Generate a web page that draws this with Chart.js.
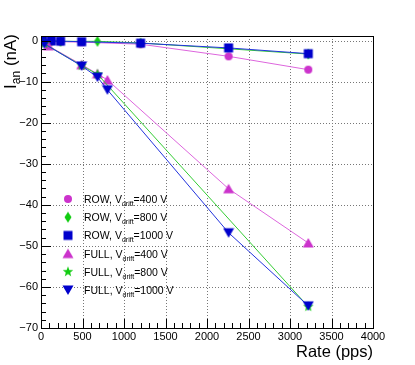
<!DOCTYPE html>
<html>
<head>
<meta charset="utf-8">
<script src="https://cdn.jsdelivr.net/npm/chart.js@4"></script>
<style>
    html, body { margin: 0; padding: 0; background: #fff; }
    #wrap { width: 415px; height: 365px; }
</style>
</head>
<body>
<div id="wrap"><canvas id="chart" width="415" height="365"></canvas></div>
<script>
// Data
const rateRow400 = [20, 125, 235, 490, 1200, 2260, 3220];
const row400 = [-0.3, -0.2, -0.3, -0.4, -0.9, -3.85, -7.1];

const rateRow800 = [20, 125, 235, 680, 1200, 3220];
const row800 = [-0.1, -0.1, -0.2, -0.2, -0.6, -3.3];

const rateRow1000 = [20, 125, 235, 490, 1200, 2260, 3220];
const row1000 = [-0.1, -0.1, -0.15, -0.3, -0.65, -1.8, -3.2];

const rateFull400 = [90, 490, 680, 800, 2260, 3220];
const full400 = [-1.3, -5.9, -8.1, -9.6, -36.1, -49.3];

const rateFull800 = [40, 490, 680, 3220];
const full800 = [-0.8, -6.1, -8.2, -64.8];

const rateFull1000 = [40, 490, 680, 800, 2260, 3220];
const full1000 = [-0.8, -6.2, -8.9, -12.0, -46.8, -64.6];

const xTicks = [0, 500, 1000, 1500, 2000, 2500, 3000, 3500, 4000];
const yTicks = [-70, -60, -50, -40, -30, -20, -10, 0];

const MAGENTA = "#cc33cc";
const GREEN = "#11cc11";
const BLUE = "#0000cc";
const FONT = "'Liberation Sans', Arial, sans-serif";

// Marker images (ROOT style)
function makeMarker(shape, color) {
    const c = document.createElement("canvas");
    const s = 12;
    c.width = s;
    c.height = s;
    const g = c.getContext("2d");
    const m = s / 2;
    g.fillStyle = color;
    g.beginPath();
    if (shape === "circle") {
        g.arc(m, m, 4, 0, Math.PI * 2);
    } else if (shape === "square") {
        g.rect(m - 4.5, m - 4.5, 9, 9);
    } else if (shape === "diamond") {
        g.moveTo(m, m - 5.5);
        g.lineTo(m + 3.5, m);
        g.lineTo(m, m + 5.5);
        g.lineTo(m - 3.5, m);
    } else if (shape === "up") {
        g.moveTo(m, m - 5);
        g.lineTo(m + 5.5, m + 4.5);
        g.lineTo(m - 5.5, m + 4.5);
    } else if (shape === "down") {
        g.moveTo(m, m + 5);
        g.lineTo(m + 5.5, m - 4.5);
        g.lineTo(m - 5.5, m - 4.5);
    } else if (shape === "star") {
        for (let i = 0; i < 10; i++) {
            const r = i % 2 === 0 ? 5.5 : 2.3;
            const a = -Math.PI / 2 + i * Math.PI / 5;
            const px = m + r * Math.cos(a);
            const py = m + r * Math.sin(a);
            if (i === 0) g.moveTo(px, py); else g.lineTo(px, py);
        }
    }
    g.closePath();
    g.fill();
    return c;
}

function toPoints(xs, ys) {
    return xs.map((x, i) => ({ x: x, y: ys[i] }));
}

const series = [
    { name: "ROW, V", val: "=400 V", xs: rateRow400, ys: row400, color: MAGENTA, line: "#dd66dd", shape: "circle" },
    { name: "ROW, V", val: "=800 V", xs: rateRow800, ys: row800, color: GREEN, line: "#33cc33", shape: "diamond" },
    { name: "ROW, V", val: "=1000 V", xs: rateRow1000, ys: row1000, color: BLUE, line: "#2233dd", shape: "square" },
    { name: "FULL, V", val: "=400 V", xs: rateFull400, ys: full400, color: MAGENTA, line: "#dd66dd", shape: "up" },
    { name: "FULL, V", val: "=800 V", xs: rateFull800, ys: full800, color: GREEN, line: "#33cc33", shape: "star" },
    { name: "FULL, V", val: "=1000 V", xs: rateFull1000, ys: full1000, color: BLUE, line: "#2233dd", shape: "down" }
];

series.forEach(s => s.img = makeMarker(s.shape, s.color));

const datasets = series.map((s, i) => ({
    label: s.name + "drift" + s.val,
    data: toPoints(s.xs, s.ys),
    showLine: true,
    borderColor: s.line,
    borderWidth: 1,
    pointStyle: s.img,
    pointRadius: 5,
    pointHoverRadius: 5,
    order: series.length - i
}));

function minus(v) {
    return String(v).replace("-", "\u2212");
}

// Frame, dotted grid, inward ticks, legend and titles
const rootStyle = {
    id: "rootStyle",
    beforeDatasetsDraw(chart) {
        const { ctx, chartArea: a, scales } = chart;
        ctx.save();
        ctx.strokeStyle = "#777";
        ctx.lineWidth = 1;
        ctx.setLineDash([1, 2]);
        xTicks.forEach(v => {
            const px = Math.round(scales.x.getPixelForValue(v)) + 0.5;
            ctx.beginPath();
            ctx.moveTo(px, a.top);
            ctx.lineTo(px, a.bottom);
            ctx.stroke();
        });
        yTicks.forEach(v => {
            const py = Math.round(scales.y.getPixelForValue(v)) + 0.5;
            ctx.beginPath();
            ctx.moveTo(a.left, py);
            ctx.lineTo(a.right, py);
            ctx.stroke();
        });
        ctx.restore();
    },
    afterDatasetsDraw(chart) {
        const { ctx, chartArea: a, scales } = chart;
        ctx.save();
        ctx.strokeStyle = "#000";
        ctx.lineWidth = 1;
        ctx.setLineDash([]);
        ctx.strokeRect(Math.round(a.left) + 0.5, Math.round(a.top) + 0.5,
            Math.round(a.right - a.left), Math.round(a.bottom - a.top));

        // x ticks (every 100, major every 500)
        for (let v = 0; v <= 4000; v += 100) {
            const px = Math.round(scales.x.getPixelForValue(v)) + 0.5;
            const len = v % 500 === 0 ? 9 : 5;
            ctx.beginPath();
            ctx.moveTo(px, a.bottom);
            ctx.lineTo(px, a.bottom - len);
            ctx.stroke();
        }
        // y ticks (every 2, major every 10)
        for (let v = -70; v <= 0; v += 2) {
            const py = Math.round(scales.y.getPixelForValue(v)) + 0.5;
            const len = v % 10 === 0 ? 10 : 5;
            ctx.beginPath();
            ctx.moveTo(a.left, py);
            ctx.lineTo(a.left + len, py);
            ctx.stroke();
        }

        // Legend
        ctx.fillStyle = "#000";
        ctx.textBaseline = "alphabetic";
        ctx.textAlign = "left";
        series.forEach((s, i) => {
            const cy = 199 + i * 18.2;
            ctx.drawImage(s.img, 68 - s.img.width / 2, cy - s.img.height / 2);
            let tx = 84;
            const by = cy + 4;
            ctx.font = "10.5px " + FONT;
            ctx.fillText(s.name, tx, by);
            tx += ctx.measureText(s.name).width;
            ctx.font = "7px " + FONT;
            ctx.fillText("drift", tx, by + 3);
            tx += ctx.measureText("drift").width;
            ctx.font = "10.5px " + FONT;
            ctx.fillText(s.val, tx, by);
        });

        // x title
        ctx.font = "16.5px " + FONT;
        ctx.textAlign = "right";
        ctx.fillText("Rate (pps)", a.right, 357);

        // y title, rotated, ending at top of frame
        ctx.translate(15.5, 34);
        ctx.rotate(-Math.PI / 2);
        ctx.textAlign = "left";
        ctx.font = "17px " + FONT;
        const w1 = ctx.measureText("I").width;
        const w3 = ctx.measureText(" (nA)").width;
        ctx.font = "12px " + FONT;
        const w2 = ctx.measureText("an").width;
        let x0 = -(w1 + w2 + w3);
        ctx.font = "17px " + FONT;
        ctx.fillText("I", x0, 0);
        x0 += w1;
        ctx.font = "12px " + FONT;
        ctx.fillText("an", x0, 4);
        x0 += w2;
        ctx.font = "17px " + FONT;
        ctx.fillText(" (nA)", x0, 0);
        ctx.restore();
    }
};

const ctx = document.getElementById("chart").getContext("2d");

new Chart(ctx, {
    type: "scatter",
    data: { datasets: datasets },
    options: {
        responsive: false,
        animation: false,
        events: [],
        layout: {
            padding: { top: 36, right: 42, left: 0, bottom: 0 }
        },
        scales: {
            x: {
                type: "linear",
                min: 0,
                max: 4000,
                afterBuildTicks: scale => {
                    scale.ticks = xTicks.map(v => ({ value: v }));
                },
                afterFit: scale => { scale.height = 37; },
                grid: { display: false, drawTicks: false },
                border: { display: false },
                ticks: {
                    color: "#000",
                    padding: 2,
                    maxRotation: 0,
                    autoSkip: false,
                    font: { family: FONT, size: 11 },
                    callback: v => minus(v)
                }
            },
            y: {
                type: "linear",
                min: -70,
                max: 1.1,
                afterBuildTicks: scale => {
                    scale.ticks = yTicks.map(v => ({ value: v }));
                },
                afterFit: scale => { scale.width = 41; },
                grid: { display: false, drawTicks: false },
                border: { display: false },
                ticks: {
                    color: "#000",
                    padding: 3,
                    autoSkip: false,
                    font: { family: FONT, size: 11 },
                    callback: v => minus(v)
                }
            }
        },
        plugins: {
            legend: { display: false },
            tooltip: { enabled: false }
        }
    },
    plugins: [rootStyle]
});
</script>
</body>
</html>
